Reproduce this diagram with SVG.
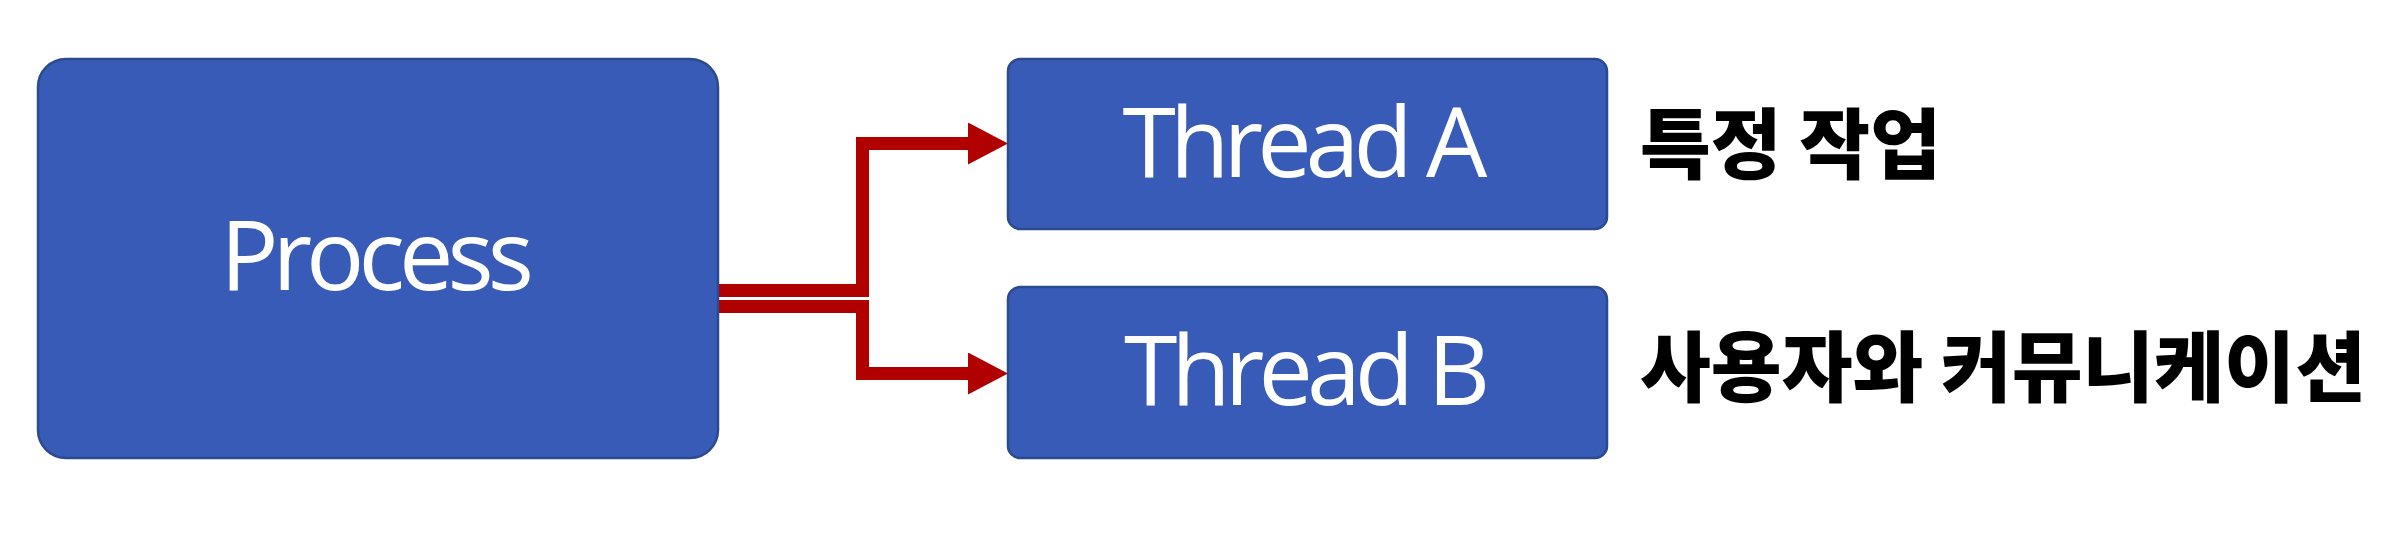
<svg xmlns="http://www.w3.org/2000/svg" width="2408" height="554" viewBox="0 0 2408 554">
  <style>
    .box { fill: #375BB6; stroke: #2C4A8E; stroke-width: 2.5; }
    .lbl { font-family: "Open Sans", "Noto Sans", sans-serif; font-size: 97px; fill: #FFFFFF; text-anchor: middle; }
    .note { font-family: "Noto Sans CJK KR", "Noto Sans", sans-serif; font-weight: 900; font-size: 77px; fill: #000000; }
    .conn { fill: none; stroke: #B00000; stroke-width: 13; stroke-linejoin: miter; marker-end: url(#arrow); }
  </style>
  <defs>
    <marker id="arrow" markerUnits="userSpaceOnUse" markerWidth="40" markerHeight="42" viewBox="0 -21 40 42" refX="2" refY="0" orient="auto">
      <path d="M0,-21 L40,0 L0,21 Z" fill="#B00000"/>
    </marker>
  </defs>
  <rect width="2408" height="554" fill="#FFFFFF"/>
  <g id="connectors">
    <path class="conn" d="M718,290.5 H862.5 V143.5 H970"/>
    <path class="conn" d="M718,306.5 H862.5 V373.5 H970"/>
  </g>
  <g id="process">
    <rect class="box" x="38" y="59" width="680" height="399" rx="28" ry="28"/>
    <text class="lbl" x="374" y="290" letter-spacing="-6">Process</text>
  </g>
  <g id="threadA">
    <rect class="box" x="1008" y="59" width="599" height="170" rx="12" ry="12"/>
    <text class="lbl" x="1302" y="177" letter-spacing="-6">Thread A</text>
  </g>
  <g id="threadB">
    <rect class="box" x="1008" y="287" width="599" height="171" rx="12" ry="12"/>
    <text class="lbl" x="1304" y="405" letter-spacing="-6">Thread B</text>
  </g>
  <g id="noteA">
    <text class="note" x="1640" y="173">특정 작업</text>
  </g>
  <g id="noteB">
    <text class="note" x="1640" y="396">사용자와 커뮤니케이션</text>
  </g>
</svg>
